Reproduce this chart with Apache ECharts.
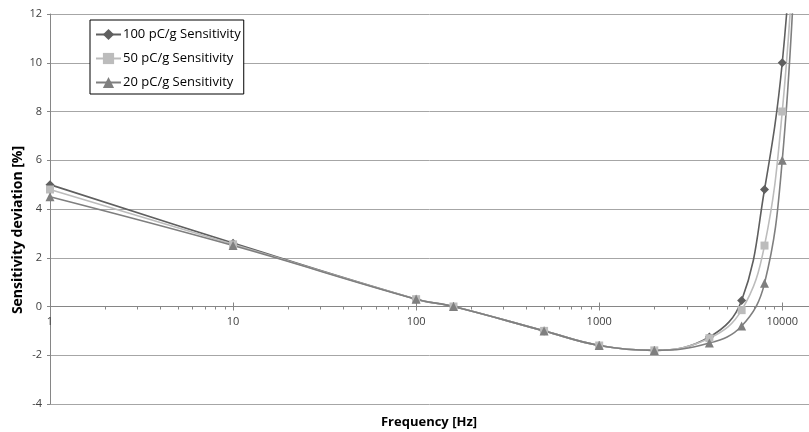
<!DOCTYPE html>
<html>
<head>
<meta charset="utf-8">
<script src="https://cdn.jsdelivr.net/npm/echarts@6/dist/echarts.min.js"></script>
<style>
  html, body { margin: 0; padding: 0; background: #fff; }
  #chart { width: 809px; height: 432px; }
</style>
</head>
<body>
<div id="chart"></div>
<script>
// frequency points [Hz]
const freq = [1, 10, 100, 160, 500, 1000, 2000, 4000, 6000, 8000, 10000, 12000];
// sensitivity deviation [%]
const sens100 = [5.0, 2.6, 0.3, 0.0, -1.0, -1.6, -1.8, -1.25, 0.25, 4.8, 10.0, 18.3];
const sens50 = [4.8, 2.55, 0.3, 0.0, -1.0, -1.6, -1.8, -1.3, -0.15, 2.5, 8.0, 16.5];
const sens20 = [4.5, 2.5, 0.3, 0.0, -1.0, -1.6, -1.8, -1.5, -0.8, 0.95, 6.0, 15.8];
const seriesNames = ['100 pC/g Sensitivity', '50 pC/g Sensitivity', '20 pC/g Sensitivity'];
// log axis tick marks (major = decades)
const xTicks = [1, 2, 3, 4, 5, 6, 7, 8, 9,
  10, 20, 30, 40, 50, 60, 70, 80, 90,
  100, 200, 300, 400, 500, 600, 700, 800, 900,
  1000, 2000, 3000, 4000, 5000, 6000, 7000, 8000, 9000,
  10000];

const FONT = '"Open Sans", "Noto Sans", sans-serif';
const AXIS_GREY = '#868686';
const Y_MIN = -4, Y_MAX = 12;
const GRID_TOP = 14, GRID_BOTTOM = 28, H = 432;

function pairs(vals) {
  return freq.map((f, i) => [f, vals[i]]);
}

// x axis sits on y = 0, like the Excel original
const plotH = H - GRID_TOP - GRID_BOTTOM;
const zeroOffset = -plotH * (0 - Y_MIN) / (Y_MAX - Y_MIN);

const chart = echarts.init(document.getElementById('chart'));

const lineSeries = (name, vals, color, symbol, size) => ({
  name: name,
  type: 'line',
  data: pairs(vals),
  smooth: 0.4,
  symbol: symbol,
  symbolSize: size,
  lineStyle: { color: color, width: 1.6 },
  itemStyle: { color: color },
  emphasis: { disabled: true },
  clip: true
});

chart.setOption({
  animation: false,
  textStyle: { fontFamily: FONT },
  title: {
    text: 'Frequency [Hz]',
    left: 424,
    top: 411,
    textAlign: 'center',
    textStyle: { fontFamily: FONT, fontSize: 13, fontWeight: 'bold', color: '#000' }
  },
  legend: {
    orient: 'vertical',
    left: 90,
    top: 20,
    data: seriesNames,
    backgroundColor: '#fff',
    borderColor: '#000',
    borderWidth: 1,
    borderRadius: 0,
    padding: [8, 3, 5, 5],
    itemGap: 11,
    itemWidth: 25,
    itemHeight: 14,
    textStyle: { fontFamily: FONT, fontSize: 13, color: '#000', padding: [0, 0, 0, -3] }
  },
  grid: { left: 50, right: 0, top: GRID_TOP, bottom: GRID_BOTTOM, containLabel: false },
  xAxis: {
    type: 'log',
    logBase: 10,
    min: 1,
    max: 14000,
    offset: zeroOffset,
    axisLine: { onZero: false, lineStyle: { color: AXIS_GREY, width: 1 } },
    axisTick: { show: false },
    splitLine: { show: false },
    axisLabel: {
      color: '#404040',
      fontSize: 11,
      margin: 10,
      showMaxLabel: false,
      formatter: v => String(Math.round(v))
    }
  },
  yAxis: {
    type: 'value',
    min: Y_MIN,
    max: Y_MAX,
    interval: 2,
    name: 'Sensitivity deviation [%]',
    nameLocation: 'middle',
    nameGap: 25,
    nameMoveOverlap: false,
    nameTextStyle: { fontFamily: FONT, fontSize: 14, fontWeight: 'bold', color: '#000', padding: [0, 42, 0, 0] },
    axisLine: { show: true, lineStyle: { color: AXIS_GREY, width: 1 } },
    axisTick: { show: true, length: 3, lineStyle: { color: AXIS_GREY } },
    splitLine: { lineStyle: { color: '#a6a6a6', width: 1 } },
    axisLabel: { color: '#404040', fontSize: 11, margin: 8 }
  },
  series: [
    lineSeries(seriesNames[0], sens100, '#5f5f5f', 'diamond', 9),
    lineSeries(seriesNames[1], sens50, '#bcbcbc', 'rect', 8),
    lineSeries(seriesNames[2], sens20, '#7f7f7f', 'triangle', 9),
    {
      name: 'ticks',
      type: 'custom',
      silent: true,
      data: xTicks.map(v => [v, 0]),
      renderItem: (params, api) => {
        const v = api.value(0);
        const p = api.coord([v, 0]);
        const major = Math.abs(Math.log10(v) - Math.round(Math.log10(v))) < 1e-9;
        const x = Math.round(p[0]) + 0.5;
        return {
          type: 'line',
          shape: { x1: x, y1: major ? p[1] - 4 : p[1], x2: x, y2: p[1] + (major ? 4 : 3) },
          style: { stroke: AXIS_GREY, lineWidth: 1 }
        };
      }
    }
  ]
});
</script>
</body>
</html>
